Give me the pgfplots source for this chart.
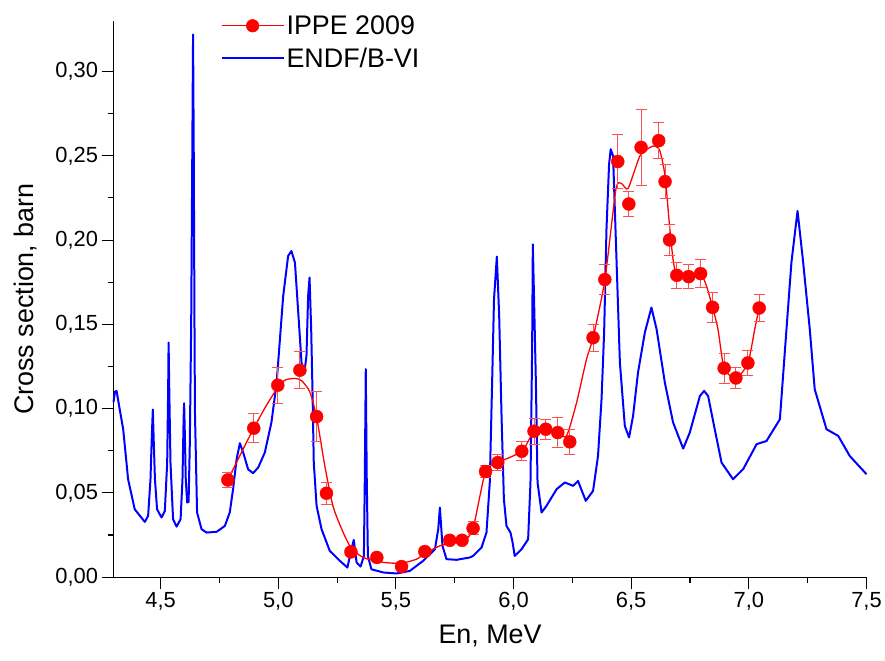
\documentclass[border=0pt]{standalone}
\usepackage{pgfplots}
\pgfplotsset{compat=1.18}
\usepackage{pgfplotstable}
\usepackage{fontspec}
\setmainfont{Liberation Sans}
\definecolor{ebred}{RGB}{255,80,80}

\pgfplotstableread{
x y e
4.786 0.0577 0.0045
4.896 0.0884 0.0086
4.998 0.1139 0.0106
5.092 0.1228 0.0110
5.163 0.0953 0.0150
5.205 0.0498 0.0064
5.309 0.0150 0.0020
5.419 0.0117 0.0020
5.524 0.0063 0.0020
5.623 0.0152 0.0020
5.729 0.0219 0.0020
5.781 0.0219 0.0020
5.828 0.0290 0.0039
5.881 0.0627 0.0037
5.933 0.0680 0.0050
6.035 0.0747 0.0057
6.087 0.0866 0.0077
6.137 0.0878 0.0060
6.188 0.0858 0.0087
6.239 0.0803 0.0076
6.338 0.1421 0.0080
6.388 0.1766 0.0090
6.443 0.2466 0.0158
6.490 0.2214 0.0073
6.542 0.2550 0.0225
6.617 0.2590 0.0106
6.644 0.2347 0.0100
6.663 0.2001 0.0094
6.694 0.1791 0.0077
6.744 0.1783 0.0073
6.795 0.1801 0.0082
6.846 0.1601 0.0089
6.895 0.1240 0.0089
6.945 0.1182 0.0064
6.996 0.1271 0.0072
7.044 0.1597 0.0078
}\ippe

\pgfplotstableread{
x y
4.786 0.0577
4.840 0.0730
4.896 0.0884
4.950 0.1020
4.998 0.1125
5.030 0.1170
5.072 0.1179
5.100 0.1165
5.134 0.1100
5.163 0.0950
5.198 0.0660
5.233 0.0420
5.276 0.0265
5.309 0.0175
5.340 0.0135
5.375 0.0110
5.446 0.0088
5.524 0.0083
5.588 0.0107
5.623 0.0140
5.687 0.0186
5.740 0.0202
5.790 0.0215
5.828 0.0290
5.881 0.0627
5.933 0.0680
6.035 0.0747
6.087 0.0866
6.137 0.0878
6.188 0.0858
6.225 0.0838
6.268 0.1036
6.310 0.1293
6.338 0.1421
6.388 0.1763
6.435 0.2300
6.459 0.2335
6.487 0.2307
6.537 0.2499
6.579 0.2549
6.600 0.2558
6.622 0.2529
6.644 0.2380
6.663 0.2084
6.678 0.1886
6.694 0.1790
6.744 0.1783
6.795 0.1800
6.820 0.1728
6.846 0.1600
6.869 0.1470
6.895 0.1240
6.945 0.1180
6.996 0.1270
7.025 0.1470
7.044 0.1600
}\ippefit

\pgfplotstableread{
x y
4.300 0.1040
4.306 0.1100
4.313 0.1105
4.322 0.1030
4.341 0.0878
4.362 0.0580
4.390 0.0403
4.433 0.0328
4.447 0.0364
4.457 0.0580
4.463 0.0850
4.467 0.0995
4.471 0.0800
4.476 0.0580
4.485 0.0403
4.504 0.0354
4.518 0.0393
4.528 0.0680
4.532 0.1100
4.534 0.1392
4.537 0.1100
4.542 0.0680
4.553 0.0344
4.568 0.0300
4.585 0.0344
4.593 0.0580
4.598 0.0950
4.600 0.1032
4.603 0.0850
4.607 0.0580
4.613 0.0443
4.619 0.0447
4.624 0.0779
4.630 0.1500
4.636 0.2800
4.638 0.3220
4.641 0.2500
4.644 0.1500
4.646 0.0977
4.655 0.0384
4.674 0.0285
4.695 0.0265
4.738 0.0269
4.773 0.0304
4.794 0.0384
4.808 0.0522
4.823 0.0700
4.837 0.0795
4.851 0.0740
4.872 0.0640
4.893 0.0617
4.915 0.0651
4.943 0.0740
4.971 0.0918
4.993 0.1150
5.021 0.1668
5.042 0.1906
5.056 0.1935
5.071 0.1866
5.085 0.1570
5.099 0.1273
5.110 0.1204
5.120 0.1313
5.127 0.1668
5.133 0.1778
5.140 0.1471
5.146 0.1075
5.151 0.0680
5.163 0.0423
5.184 0.0285
5.219 0.0156
5.262 0.0097
5.294 0.0057
5.311 0.0166
5.321 0.0221
5.333 0.0087
5.350 0.0063
5.364 0.0126
5.368 0.0600
5.372 0.1234
5.376 0.0600
5.381 0.0126
5.396 0.0047
5.446 0.0028
5.503 0.0022
5.559 0.0037
5.616 0.0097
5.666 0.0166
5.680 0.0285
5.687 0.0413
5.698 0.0186
5.715 0.0107
5.758 0.0103
5.814 0.0117
5.828 0.0126
5.864 0.0176
5.885 0.0265
5.899 0.0562
5.909 0.1155
5.917 0.1649
5.929 0.1902
5.939 0.1550
5.949 0.0957
5.959 0.0463
5.970 0.0304
5.987 0.0265
5.996 0.0206
6.005 0.0126
6.034 0.0166
6.062 0.0225
6.072 0.0562
6.079 0.1352
6.082 0.1975
6.088 0.1600
6.095 0.1155
6.102 0.0562
6.119 0.0384
6.140 0.0423
6.183 0.0522
6.218 0.0562
6.253 0.0542
6.274 0.0571
6.307 0.0453
6.338 0.0512
6.359 0.0719
6.374 0.1056
6.385 0.1451
6.395 0.2064
6.406 0.2450
6.413 0.2539
6.423 0.2499
6.438 0.1867
6.452 0.1273
6.473 0.0897
6.491 0.0829
6.508 0.0957
6.529 0.1214
6.558 0.1451
6.586 0.1600
6.608 0.1471
6.643 0.1155
6.678 0.0918
6.721 0.0763
6.749 0.0858
6.792 0.1075
6.810 0.1105
6.827 0.1075
6.855 0.0878
6.884 0.0680
6.933 0.0581
6.976 0.0641
7.033 0.0789
7.075 0.0808
7.132 0.0937
7.160 0.1471
7.181 0.1867
7.207 0.2173
7.231 0.1867
7.259 0.1471
7.280 0.1115
7.330 0.0878
7.380 0.0838
7.429 0.0719
7.500 0.0611
}\endf

\begin{document}
\begin{tikzpicture}
\begin{axis}[
  scale only axis,
  width=754bp, height=557bp,
  xmin=4.3, xmax=7.5, ymin=0, ymax=0.33,
  axis lines*=left,
  axis line style={line width=1.3bp, black},
  xtick={4.5,5.0,5.5,6.0,6.5,7.0,7.5},
  ytick={0,0.05,0.10,0.15,0.20,0.25,0.30},
  minor x tick num=1,
  minor y tick num=1,
  tick align=outside,
  major tick length=12bp,
  minor tick length=6bp,
  tick style={line width=1.1bp, black},
  /pgf/number format/assume math mode=true,
  xticklabel style={/pgf/number format/.cd, fixed, fixed zerofill, precision=1, use comma},
  yticklabel style={/pgf/number format/.cd, fixed, fixed zerofill, precision=2, use comma},
  tick label style={font=\fontsize{22}{26}\selectfont},
  label style={font=\fontsize{27}{32}\selectfont},
  xlabel={En, MeV},
  ylabel={Cross section, barn},
  xlabel style={at={(axis description cs:0.5,-0.106)}, anchor=center},
  ylabel style={at={(axis description cs:-0.1163,0.5)}, anchor=center},
  legend style={at={(axis description cs:0.142,1.0135)}, anchor=north west,
    draw=white, fill=none, font=\fontsize{27}{32}\selectfont,
    row sep=8bp, inner sep=0bp,
    /tikz/every even column/.append style={column sep=7bp}},
  legend cell align=left,
  clip=false,
]
\addlegendimage{legend image code/.code={%
  \draw[draw=red, line width=1.3bp] (0bp,0bp) -- (62bp,0bp);
  \path[fill=red, draw=red, line width=0.5bp] (31bp,0bp) circle (6.3bp);}}
\addlegendentry{IPPE 2009}
\addlegendimage{legend image code/.code={%
  \draw[draw=blue, line width=2bp] (0bp,0bp) -- (62bp,0bp);}}
\addlegendentry{ENDF/B-VI}

\addplot[forget plot, blue, line width=2bp, line join=round, mark=none] table[x=x,y=y] {\endf};
\addplot[forget plot, red, line width=1.3bp, smooth, tension=0.4, mark=none] table[x=x,y=y] {\ippefit};
\addplot[forget plot, only marks, mark=*, mark size=6.5bp, mark options={fill=red, draw=red},
  error bars/.cd, y dir=both, y explicit,
  error bar style={ebred, line width=1bp},
  error mark options={rotate=90, mark size=5.5bp, ebred, line width=1bp}]
  table[x=x,y=y,y error=e] {\ippe};
\end{axis}
\path (-113.7bp,-83bp) rectangle (771.3bp,578bp);
\end{tikzpicture}
\end{document}
